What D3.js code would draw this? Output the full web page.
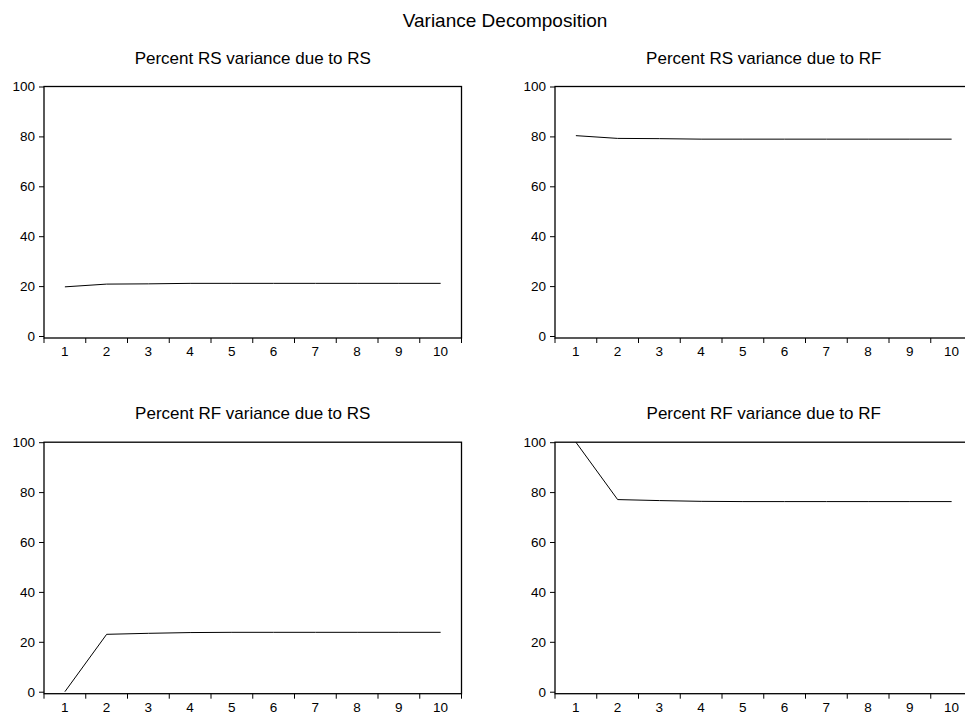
<!DOCTYPE html>
<html>
<head>
<meta charset="utf-8">
<script src="https://cdn.jsdelivr.net/npm/d3@7"></script>
<style>
  body { margin: 0; background: #fff; }
  text { font-family: "Liberation Sans", Arial, sans-serif; fill: #000; }
</style>
</head>
<body>
<div id="chart"></div>
<script>
(function() {
  var outerWidth = 965,
      outerHeight = 716;

  // horizon periods
  const periods = [1, 2, 3, 4, 5, 6, 7, 8, 9, 10];
  const yTicks = [0, 20, 40, 60, 80, 100];

  // series values (percent)
  const rsDueRs = [19.7, 20.8, 20.9, 21.1, 21.1, 21.1, 21.1, 21.1, 21.1, 21.1];
  const rsDueRf = [80.3, 79.2, 79.1, 78.9, 78.9, 78.9, 78.9, 78.9, 78.9, 78.9];
  const rfDueRs = [0.0, 23.0, 23.4, 23.7, 23.8, 23.8, 23.8, 23.8, 23.8, 23.8];
  const rfDueRf = [100.0, 77.0, 76.6, 76.3, 76.2, 76.2, 76.2, 76.2, 76.2, 76.2];

  const panels = [
    { title: "Percent RS variance due to RS", values: rsDueRs, x: 44,  y: 86.5 },
    { title: "Percent RS variance due to RF", values: rsDueRf, x: 555, y: 86.5 },
    { title: "Percent RF variance due to RS", values: rfDueRs, x: 44,  y: 442.2 },
    { title: "Percent RF variance due to RF", values: rfDueRf, x: 555, y: 442.2 }
  ];

  var pw = 417.5, ph = 251.5;

  var svg = d3.select("#chart").append("svg")
      .attr("width", outerWidth)
      .attr("height", outerHeight);

  // the graph is wider than the window, so its title sits right of centre
  svg.append("text")
      .attr("x", 505)
      .attr("y", 27)
      .attr("text-anchor", "middle")
      .attr("font-size", "19px")
      .text("Variance Decomposition");

  panels.forEach(function(p) {
    var g = svg.append("g")
        .attr("transform", "translate(" + p.x + "," + p.y + ")");

    var x = d3.scaleBand()
        .domain(periods)
        .range([0, pw]);

    var y = d3.scaleLinear()
        .domain([-0.8, 100])
        .range([ph, 0]);

    g.append("text")
        .attr("x", pw / 2)
        .attr("y", -23)
        .attr("text-anchor", "middle")
        .attr("font-size", "17px")
        .text(p.title);

    // frame
    g.append("rect")
        .attr("x", 0)
        .attr("y", 0)
        .attr("width", pw)
        .attr("height", ph)
        .attr("fill", "none")
        .attr("stroke", "#000")
        .attr("stroke-width", 1.3);

    // y axis
    var ya = g.append("g")
        .call(d3.axisLeft(y).tickValues(yTicks).tickSize(5).tickPadding(4).tickSizeOuter(0));
    ya.select(".domain").remove();
    ya.selectAll("text").attr("font-size", "13.5px").attr("font-family", null);

    // x axis: ticks between periods, labels at centers
    var xa = g.append("g")
        .attr("transform", "translate(0," + ph + ")");
    xa.selectAll("line")
        .data(d3.range(11))
      .enter().append("line")
        .attr("x1", d => d * x.step())
        .attr("x2", d => d * x.step())
        .attr("y1", 0)
        .attr("y2", 5)
        .attr("stroke", "#000");
    xa.selectAll("text")
        .data(periods)
      .enter().append("text")
        .attr("x", d => x(d) + x.bandwidth() / 2)
        .attr("y", 18)
        .attr("text-anchor", "middle")
        .attr("font-size", "13.5px")
        .text(d => d);

    var line = d3.line()
        .x((d, i) => x(periods[i]) + x.bandwidth() / 2)
        .y(d => y(d));

    g.append("path")
        .datum(p.values)
        .attr("d", line)
        .attr("fill", "none")
        .attr("stroke", "#000")
        .attr("stroke-width", 1);
  });
})();
</script>
</body>
</html>
